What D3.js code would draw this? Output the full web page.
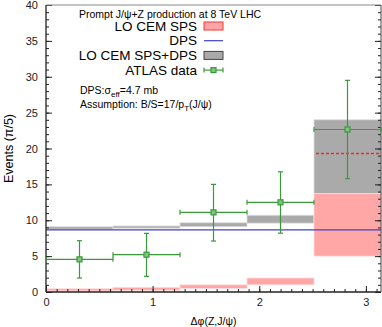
<!DOCTYPE html>
<html>
<head>
<meta charset="utf-8">
<script src="https://cdn.jsdelivr.net/npm/d3@7"></script>
<style>
  body { margin: 0; background: white; }
  text { font-family: "Liberation Sans", Arial, sans-serif; }
</style>
</head>
<body>
<div id="chart"></div>
<script>
const W = 382, H = 327;
const margin = { top: 5, right: 1, bottom: 35, left: 46 };

// bins of width pi/5
const binEdges = [0, 1, 2, 3, 4, 5].map(k => k * Math.PI / 5);
// LO CEM SPS band (low, high)
const spsLow  = [0.15, 0.25, 0.5, 1.0, 5.0];
const spsHigh = [0.45, 0.65, 1.0, 1.95, 13.7];
// LO CEM SPS+DPS band
const totLow  = [8.75, 8.9, 9.1, 9.6, 13.7];
const totHigh = [9.1, 9.2, 9.65, 10.7, 24.0];
const totCentral = [null, null, null, null, 19.3];
// DPS level
const dpsValue = 8.65;
// ATLAS data
const dataY    = [4.55, 5.2, 11.1, 12.5, 22.65];
const dataUp   = [7.15, 8.17, 15.0, 16.75, 29.5];
const dataDown = [1.95, 2.18, 7.1, 8.2, 15.8];

const yMajor = [0, 5, 10, 15, 20, 25, 30, 35, 40];
const xMajor = [0, 1, 2, 3];

const svg = d3.select("#chart").append("svg")
    .attr("width", W).attr("height", H);

const x = d3.scaleLinear().domain([0, Math.PI]).range([margin.left, W - margin.right]);
const y = d3.scaleLinear().domain([0, 40]).range([H - margin.bottom, margin.top]);

const bins = d3.range(5).map(i => ({
  x0: binEdges[i], x1: binEdges[i + 1],
  sl: spsLow[i], sh: spsHigh[i], tl: totLow[i], th: totHigh[i], tc: totCentral[i],
  d: dataY[i], up: dataUp[i], dn: dataDown[i]
}));

// SPS+DPS band
svg.selectAll(".tot").data(bins).enter().append("rect")
    .attr("x", d => x(d.x0)).attr("width", d => x(d.x1) - x(d.x0))
    .attr("y", d => y(d.th)).attr("height", d => y(d.tl) - y(d.th))
    .style("fill", "#aaaaaa").style("stroke", "#dddddd").style("stroke-width", 0.8);

// SPS band
svg.selectAll(".sps").data(bins).enter().append("rect")
    .attr("x", d => x(d.x0)).attr("width", d => x(d.x1) - x(d.x0))
    .attr("y", d => y(d.sh)).attr("height", d => y(d.sl) - y(d.sh))
    .style("fill", "#ffa6a6").style("stroke", "#ffdddd").style("stroke-width", 0.8);

// central dashed
svg.selectAll(".cent").data(bins.filter(d => d.tc != null)).enter().append("line")
    .attr("x1", d => x(d.x0) + 2).attr("x2", d => x(d.x1))
    .attr("y1", d => y(d.tc)).attr("y2", d => y(d.tc))
    .style("stroke", "#dd3333").style("stroke-width", 1.3).style("stroke-dasharray", "3,2");

// DPS line
svg.append("line")
    .attr("x1", x(0)).attr("x2", x(Math.PI))
    .attr("y1", y(dpsValue)).attr("y2", y(dpsValue))
    .style("stroke", "#4040c8").style("stroke-width", 1.2);

// axes
const ax = svg.append("g").attr("class", "axes");
function styleAxis(g) {
  g.select(".domain").remove();
  g.selectAll("line").style("stroke", "#222");
  g.selectAll("text").style("font-size", "11px").style("fill", "#222")
    .style("font-family", "Liberation Sans, Arial, sans-serif");
}
ax.append("g").attr("transform", `translate(${x(0)},0)`)
    .call(d3.axisLeft(y).tickValues(d3.range(0, 41, 1)).tickSizeInner(-3).tickSizeOuter(0).tickFormat(""))
    .call(styleAxis);
ax.append("g").attr("transform", `translate(${x(0)},0)`)
    .call(d3.axisLeft(y).tickValues(yMajor).tickSizeInner(-6).tickSizeOuter(0).tickPadding(8).tickFormat(d3.format("d")))
    .call(styleAxis);
ax.append("g").attr("transform", `translate(${x(Math.PI)},0)`)
    .call(d3.axisRight(y).tickValues(d3.range(0, 41, 1)).tickSizeInner(-3).tickSizeOuter(0).tickFormat(""))
    .call(styleAxis);
ax.append("g").attr("transform", `translate(${x(Math.PI)},0)`)
    .call(d3.axisRight(y).tickValues(yMajor).tickSizeInner(-6).tickSizeOuter(0).tickFormat(""))
    .call(styleAxis);
ax.append("g").attr("transform", `translate(0,${y(0)})`)
    .call(d3.axisBottom(x).tickValues(d3.range(0, 32, 1).map(v => v / 10)).tickSizeInner(-3).tickSizeOuter(0).tickFormat(""))
    .call(styleAxis);
ax.append("g").attr("transform", `translate(0,${y(0)})`)
    .call(d3.axisBottom(x).tickValues(xMajor).tickSizeInner(-6).tickSizeOuter(0).tickPadding(6).tickFormat(d3.format("d")))
    .call(styleAxis);

// frame
svg.append("line").attr("x1", x(0)).attr("x2", x(0)).attr("y1", y(0)).attr("y2", y(40))
    .style("stroke", "#222").style("stroke-width", 1.3);
svg.append("line").attr("x1", x(0)).attr("x2", x(Math.PI)).attr("y1", y(0)).attr("y2", y(0))
    .style("stroke", "#222").style("stroke-width", 1.3);
svg.append("line").attr("x1", x(Math.PI)).attr("x2", x(Math.PI)).attr("y1", y(0)).attr("y2", y(40))
    .style("stroke", "#444").style("stroke-width", 1);
svg.append("line").attr("x1", x(0)).attr("x2", x(Math.PI)).attr("y1", y(40)).attr("y2", y(40))
    .style("stroke", "#888").style("stroke-width", 1);

// ATLAS data
const green = "#3a9a3a";
const pts = svg.append("g").style("stroke", green).style("stroke-width", 1.2);
bins.forEach(d => {
  const cx = x((d.x0 + d.x1) / 2);
  pts.append("line").attr("x1", x(d.x0)).attr("x2", x(d.x1)).attr("y1", y(d.d)).attr("y2", y(d.d));
  pts.append("line").attr("x1", cx).attr("x2", cx).attr("y1", y(d.up)).attr("y2", y(d.dn));
  [d.x0, d.x1].forEach(e => pts.append("line").attr("x1", x(e)).attr("x2", x(e))
      .attr("y1", y(d.d) - 2.5).attr("y2", y(d.d) + 2.5));
  [d.up, d.dn].forEach(e => pts.append("line").attr("x1", cx - 2.5).attr("x2", cx + 2.5)
      .attr("y1", y(e)).attr("y2", y(e)));
  pts.append("rect").attr("x", cx - 2.5).attr("y", y(d.d) - 2.5).attr("width", 5).attr("height", 5)
      .style("fill", "#7fc47f");
});

// labels
svg.append("text").attr("x", (x(0) + x(Math.PI)) / 2).attr("y", 325)
    .attr("text-anchor", "middle").style("font-size", "10.5px").text("Δφ(Z,J/ψ)");
svg.append("text").attr("transform", `translate(13,${(y(0) + y(40)) / 2}) rotate(-90)`)
    .attr("text-anchor", "middle").style("font-size", "12.5px").text("Events (π/5)");

svg.append("text").attr("x", 79).attr("y", 18).style("font-size", "10.5px")
    .text("Prompt J/ψ+Z production at 8 TeV LHC");

// legend
const legendItems = ["LO CEM SPS", "DPS", "LO CEM SPS+DPS", "ATLAS data"];
const lg = svg.append("g");
legendItems.forEach((t, i) => {
  const cy = 26 + i * 14.7;
  lg.append("text").attr("x", 197).attr("y", cy + 4.5).attr("text-anchor", "end")
    .style("font-size", "13.5px").text(t);
  if (i === 0) lg.append("rect").attr("x", 204).attr("y", cy - 4).attr("width", 19).attr("height", 8)
    .style("fill", "#ffa6a6").style("stroke", "#ff3333").style("stroke-width", 1);
  if (i === 1) lg.append("line").attr("x1", 204).attr("x2", 223).attr("y1", cy).attr("y2", cy)
    .style("stroke", "#4040c8").style("stroke-width", 1.2);
  if (i === 2) lg.append("rect").attr("x", 204).attr("y", cy - 4).attr("width", 19).attr("height", 8)
    .style("fill", "#aaaaaa").style("stroke", "#444").style("stroke-width", 1);
  if (i === 3) {
    const g = lg.append("g").style("stroke", green).style("stroke-width", 1.2);
    g.append("line").attr("x1", 204).attr("x2", 223).attr("y1", cy).attr("y2", cy);
    [204, 223].forEach(e => g.append("line").attr("x1", e).attr("x2", e).attr("y1", cy - 2.5).attr("y2", cy + 2.5));
    g.append("rect").attr("x", 211).attr("y", cy - 2.5).attr("width", 5).attr("height", 5).style("fill", "#7fc47f");
  }
});

const note = svg.append("text").attr("x", 80).attr("y", 94).style("font-size", "10.5px");
note.append("tspan").text("DPS:σ");
note.append("tspan").attr("dy", 3).style("font-size", "8px").text("eff");
note.append("tspan").attr("dy", -3).text("=4.7 mb");
const note2 = svg.append("text").attr("x", 80).attr("y", 108).style("font-size", "10.5px");
note2.append("tspan").text("Assumption: B/S=17/p");
note2.append("tspan").attr("dy", 3).style("font-size", "8px").text("T");
note2.append("tspan").attr("dy", -3).text("(J/ψ)");
</script>
</body>
</html>
